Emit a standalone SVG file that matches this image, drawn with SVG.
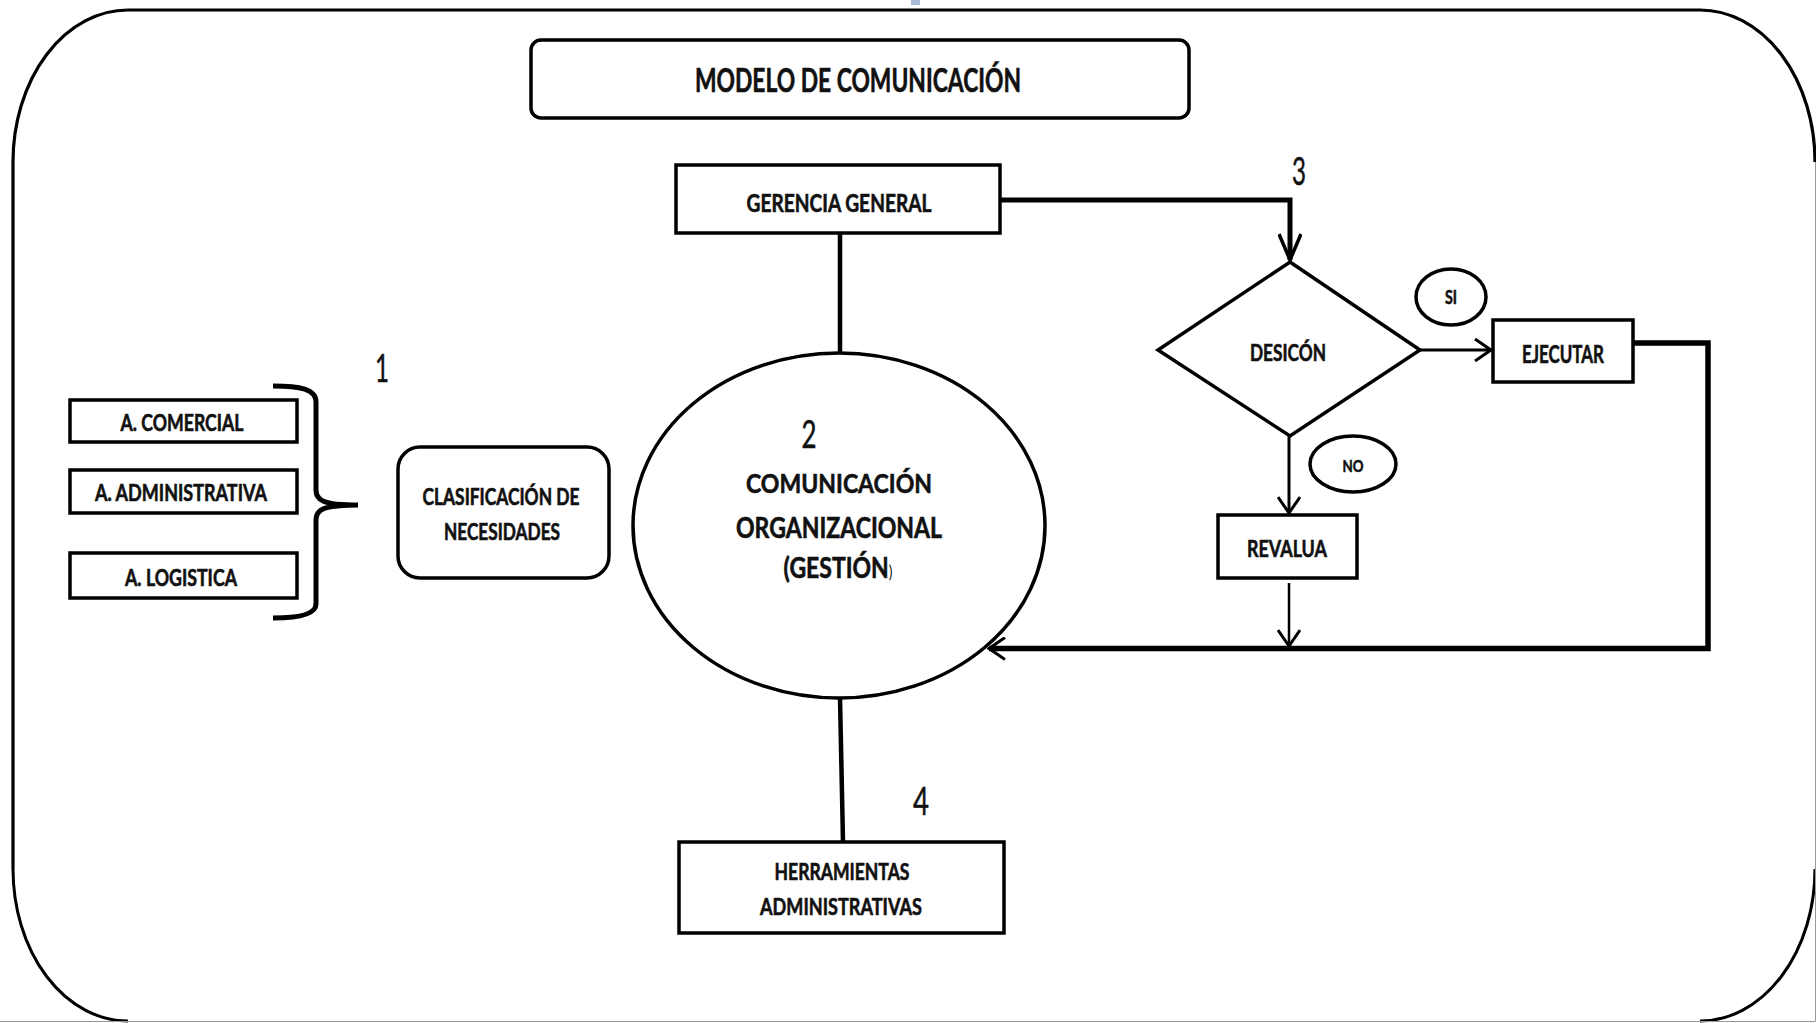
<svg xmlns="http://www.w3.org/2000/svg" width="1816" height="1023" viewBox="0 0 1816 1023">
<style>
.box{fill:#fff;stroke:#000;stroke-width:3.5}
.ln{fill:none;stroke:#000;stroke-linecap:butt;stroke-linejoin:miter}
.t{font-family:Lato,"Open Sans","Liberation Sans",sans-serif;font-weight:bold;fill:#111;stroke:#111;stroke-width:0.6;text-anchor:middle}
.n{font-family:Lato,"Open Sans","Liberation Sans",sans-serif;font-weight:normal;fill:#111;stroke:#111;stroke-width:0.5;text-anchor:middle;font-size:38px}
</style>
<defs>
<marker id="chev" viewBox="0 0 20 24" refX="18" refY="12" markerWidth="20" markerHeight="24" markerUnits="userSpaceOnUse" orient="auto">
<path d="M2,1 L18,12 L2,23" fill="none" stroke="#000" stroke-width="3"/>
</marker>
<marker id="chevL" viewBox="0 0 30 24" refX="28" refY="12" markerWidth="30" markerHeight="24" markerUnits="userSpaceOnUse" orient="auto">
<path d="M2,1 L28,12 L2,23" fill="none" stroke="#000" stroke-width="3.5"/>
</marker>
</defs>
<rect width="1816" height="1023" fill="#fff"/>
<rect x="911" y="0" width="9" height="5" fill="#a9bbd9"/>
<g id="frame">
<path class="ln" stroke-width="3.2" d="M13,869 V162 A115,152 0 0 1 128,10 H1700 A115,152 0 0 1 1815,162"/>
<path class="ln" stroke-width="3" d="M1815,869 A115,152 0 0 1 1700,1021"/>
<path class="ln" stroke-width="3" d="M128,1021 A115,152 0 0 1 13,869"/>
<path d="M1815.5,162 V1021.5 H0" fill="none" stroke="#999" stroke-width="1"/>
</g>
<g id="connectors">
<path class="ln" stroke-width="5" d="M1000,200 H1290 V260" marker-end="url(#chevL)"/>
<path class="ln" stroke-width="3" d="M1420,350 H1491" marker-end="url(#chev)"/>
<path class="ln" stroke-width="3" d="M1289,436 V513" marker-end="url(#chev)"/>
<path class="ln" stroke-width="2.5" d="M1289,583 V646" marker-end="url(#chev)"/>
<path class="ln" stroke-width="5.5" d="M1633,343 H1708 V648.5 H989" marker-end="url(#chev)"/>
<path class="ln" stroke-width="4.5" d="M840,233 V353"/>
<path class="ln" stroke-width="4.5" d="M840,698 L843,842"/>
<path class="ln" stroke-width="5" d="M273,386 C300,386 316,389 316,402 V490 C316,500 322,505 358,505 C322,505 316,510 316,520 V604 C316,614 300,618 273,618"/>
</g>
<g id="title">
<rect class="box" x="531" y="40" width="658" height="78" rx="10"/>
<text class="t" x="858" y="92" font-size="33" textLength="326" lengthAdjust="spacingAndGlyphs">MODELO DE COMUNICACIÓN</text>
</g>
<g id="gerencia">
<rect class="box" x="676" y="165" width="324" height="68"/>
<text class="t" x="839" y="212" font-size="24" textLength="185" lengthAdjust="spacingAndGlyphs">GERENCIA GENERAL</text>
</g>
<g id="n3"><text class="n" x="1299" y="185" textLength="14" lengthAdjust="spacingAndGlyphs">3</text></g>
<g id="decision">
<polygon class="box" points="1290,262 1420,350 1290,436 1158,350"/>
<text class="t" x="1288" y="361" font-size="22" textLength="76" lengthAdjust="spacingAndGlyphs">DESICÓN</text>
</g>
<g id="si">
<ellipse class="box" stroke-width="3" cx="1451" cy="297" rx="35" ry="28"/>
<text class="t" x="1451" y="304" font-size="18" textLength="12" lengthAdjust="spacingAndGlyphs">SI</text>
</g>
<g id="ejecutar">
<rect class="box" x="1493" y="320" width="140" height="62"/>
<text class="t" x="1563" y="363" font-size="24" textLength="82" lengthAdjust="spacingAndGlyphs">EJECUTAR</text>
</g>
<g id="no">
<ellipse class="box" stroke-width="3" cx="1353" cy="464" rx="43" ry="28"/>
<text class="t" x="1353" y="472" font-size="17" textLength="21" lengthAdjust="spacingAndGlyphs">NO</text>
</g>
<g id="revalua">
<rect class="box" x="1218" y="515" width="139" height="63"/>
<text class="t" x="1287" y="557" font-size="23" textLength="80" lengthAdjust="spacingAndGlyphs">REVALUA</text>
</g>
<g id="comunicacion">
<ellipse class="box" stroke-width="3" cx="839" cy="525.5" rx="206" ry="172.5"/>
<text class="n" x="809" y="448" textLength="15" lengthAdjust="spacingAndGlyphs">2</text>
<text class="t" x="839" y="493" font-size="27" textLength="186" lengthAdjust="spacingAndGlyphs">COMUNICACIÓN</text>
<text class="t" x="839" y="538" font-size="28" textLength="206" lengthAdjust="spacingAndGlyphs">ORGANIZACIONAL</text>
<text class="t" transform="translate(838,578) scale(0.82,1)" font-size="28">(GESTIÓN<tspan font-size="17" font-weight="normal" stroke-width="0">)</tspan></text>
</g>
<g id="n4"><text class="n" x="921" y="815" textLength="16" lengthAdjust="spacingAndGlyphs">4</text></g>
<g id="herramientas">
<rect class="box" x="679" y="842" width="325" height="91"/>
<text class="t" x="842" y="880" font-size="23" textLength="135" lengthAdjust="spacingAndGlyphs">HERRAMIENTAS</text>
<text class="t" x="841" y="915" font-size="23" textLength="162" lengthAdjust="spacingAndGlyphs">ADMINISTRATIVAS</text>
</g>
<g id="n1"><text class="n" x="382" y="382" textLength="14" lengthAdjust="spacingAndGlyphs">1</text></g>
<g id="comercial">
<rect class="box" x="70" y="400" width="227" height="42"/>
<text class="t" x="182" y="431" font-size="23" textLength="123" lengthAdjust="spacingAndGlyphs">A. COMERCIAL</text>
</g>
<g id="administrativa">
<rect class="box" x="70" y="470" width="227" height="43"/>
<text class="t" x="181" y="501" font-size="23" textLength="172" lengthAdjust="spacingAndGlyphs">A. ADMINISTRATIVA</text>
</g>
<g id="logistica">
<rect class="box" x="70" y="553" width="227" height="45"/>
<text class="t" x="181" y="586" font-size="23" textLength="112" lengthAdjust="spacingAndGlyphs">A. LOGISTICA</text>
</g>
<g id="clasificacion">
<rect class="box" x="398" y="447" width="211" height="131" rx="22"/>
<text class="t" x="501" y="505" font-size="22" textLength="157" lengthAdjust="spacingAndGlyphs">CLASIFICACIÓN DE</text>
<text class="t" x="502" y="540" font-size="22" textLength="116" lengthAdjust="spacingAndGlyphs">NECESIDADES</text>
</g>
</svg>
